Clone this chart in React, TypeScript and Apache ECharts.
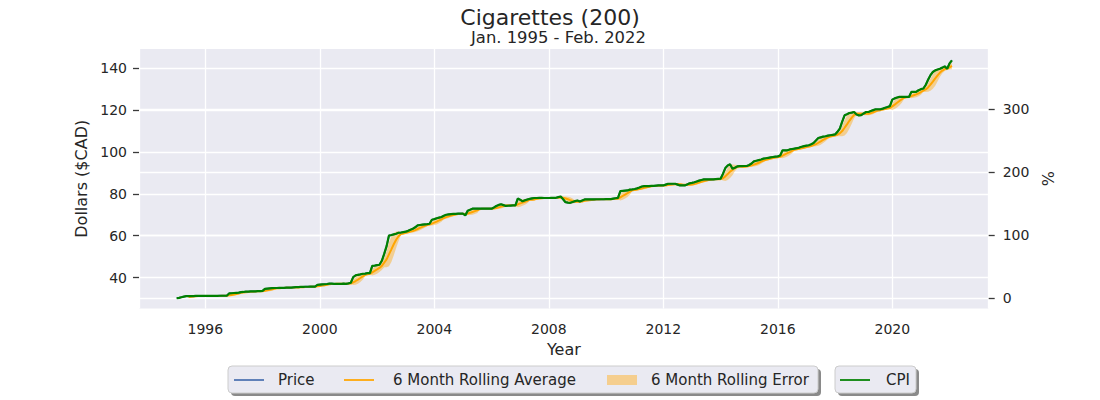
import React, { useEffect, useRef } from 'react';
import * as echarts from 'echarts';

const chartTitle = 'Cigarettes (200)';
const chartSubtitle = 'Jan. 1995 - Feb. 2022';
const firstYear = 1995;
const rollingWindow = 6;
const xAxisName = 'Year';
const leftAxisName = 'Dollars ($CAD)';
const rightAxisName = '%';
const legendNames = ['Price', '6 Month Rolling Average', '6 Month Rolling Error', 'CPI'];
const xTicks = [1996, 2000, 2004, 2008, 2012, 2016, 2020];
const leftTicks = [40, 60, 80, 100, 120, 140];
const rightTicks = [0, 100, 200, 300];

// Monthly price, Jan 1995 .. Feb 2022 (dollars)
const monthlyPrice = [
  // 1995
  30.1, 30.3, 30.6, 30.9, 31.1, 31.1, 31.1, 31.1, 31.2, 31.2, 31.2, 31.2,
  // 1996
  31.2, 31.2, 31.2, 31.2, 31.2, 31.2, 31.3, 31.3, 31.3, 31.3, 32.4, 32.5,
  // 1997
  32.6, 32.7, 32.8, 33.0, 33.1, 33.3, 33.3, 33.4, 33.4, 33.4, 33.5, 33.5,
  // 1998
  33.6, 34.6, 34.7, 34.8, 34.9, 35.0, 35.0, 35.1, 35.1, 35.1, 35.2, 35.2,
  // 1999
  35.2, 35.3, 35.4, 35.4, 35.5, 35.5, 35.6, 35.6, 35.7, 35.7, 35.7, 36.5,
  // 2000
  36.6, 36.7, 36.8, 36.9, 37.1, 37.1, 37.0, 37.0, 37.0, 37.0, 37.1, 37.0,
  // 2001
  37.2, 37.5, 40.2, 41.0, 41.3, 41.5, 41.8, 41.9, 42.1, 42.1, 45.6, 45.7,
  // 2002
  45.9, 46.1, 48.0, 51.3, 55.0, 60.1, 60.3, 60.6, 60.9, 61.4, 61.5, 61.7,
  // 2003
  61.9, 62.3, 62.8, 63.3, 64.0, 64.9, 65.1, 65.3, 65.4, 65.5, 65.7, 67.6,
  // 2004
  67.9, 68.3, 68.6, 68.9, 69.5, 70.0, 70.2, 70.3, 70.4, 70.4, 70.5, 70.5,
  // 2005
  70.5, 69.7, 71.9, 72.4, 72.9, 72.9, 72.9, 72.9, 72.9, 72.9, 72.9, 72.9,
  // 2006
  72.9, 73.5, 74.2, 74.7, 75.0, 74.6, 74.2, 74.3, 74.4, 74.5, 74.5, 77.7,
  // 2007
  77.2, 76.4, 76.9, 77.3, 77.6, 77.8, 78.0, 78.0, 78.1, 78.1, 78.0, 78.0,
  // 2008
  78.0, 78.1, 78.1, 78.1, 78.4, 78.7, 77.4, 76.0, 75.8, 75.7, 76.1, 76.5,
  // 2009
  76.8, 76.3, 76.8, 77.3, 77.3, 77.3, 77.3, 77.3, 77.4, 77.4, 77.4, 77.4,
  // 2010
  77.5, 77.5, 77.5, 77.7, 77.9, 78.1, 81.3, 81.4, 81.5, 81.6, 82.0, 82.1,
  // 2011
  82.3, 82.6, 83.0, 83.5, 83.7, 83.7, 83.7, 83.8, 83.8, 83.9, 84.0, 84.0,
  // 2012
  84.0, 84.4, 84.8, 84.8, 84.8, 84.8, 84.4, 84.0, 84.0, 84.0, 84.5, 85.0,
  // 2013
  85.2, 85.5, 85.9, 86.3, 86.6, 86.9, 86.9, 86.9, 86.9, 86.9, 87.0, 87.1,
  // 2014
  87.2, 89.5, 92.3, 93.5, 94.1, 92.0, 92.5, 93.1, 93.2, 93.2, 93.3, 93.3,
  // 2015
  93.8, 94.5, 95.5, 95.8, 96.1, 96.4, 96.8, 97.0, 97.2, 97.4, 97.6, 97.8,
  // 2016
  97.9, 98.3, 100.8, 100.8, 100.8, 101.2, 101.4, 101.6, 101.8, 102.1, 102.5, 102.8,
  // 2017
  103.0, 103.2, 103.7, 104.3, 105.5, 106.7, 107.0, 107.3, 107.5, 107.8, 108.0, 108.2,
  // 2018
  108.4, 109.6, 111.2, 114.5, 117.5, 118.0, 118.6, 118.8, 119.1, 117.9, 117.5, 117.6,
  // 2019
  118.4, 119.1, 119.1, 119.6, 120.0, 120.4, 120.4, 120.4, 120.7, 121.1, 121.5, 121.9,
  // 2020
  125.0, 125.6, 126.0, 126.3, 126.3, 126.3, 126.3, 126.3, 128.7, 128.7, 128.7, 129.5,
  // 2021
  130.0, 130.3, 132.0, 134.5, 136.7, 138.2, 139.0, 139.4, 139.8, 140.3, 140.9, 139.8,
  // 2022
  142.3, 143.8,
];

const COLORS = {
  text: '#262626',
  bg: '#EAEAF2',
  price: '#4C72B0',
  avg: '#FFA500',
  band: 'rgba(255,165,0,0.4)',
  bandLegend: '#F5CE8E',
  cpi: '#008000',
};

function buildSeriesData() {
  const xs = monthlyPrice.map((_, i) => firstYear + i / 12);
  const base = monthlyPrice[0];
  const pricePts = monthlyPrice.map((v, i) => [xs[i], v]);
  const cpiPts = monthlyPrice.map((v, i) => [xs[i], (v / base - 1) * 100]);
  const mean: number[][] = [];
  const band: number[][] = [];
  for (let i = rollingWindow - 1; i < monthlyPrice.length; i++) {
    const w = monthlyPrice.slice(i - rollingWindow + 1, i + 1);
    const m = w.reduce((a, b) => a + b, 0) / w.length;
    const sd = Math.sqrt(w.reduce((a, b) => a + (b - m) * (b - m), 0) / (w.length - 1));
    mean.push([xs[i], m]);
    band.push([xs[i], m - sd, m + sd]);
  }
  return { pricePts, cpiPts, mean, band, base };
}

function legendGraphics() {
  const font = '15px "DejaVu Sans"';
  const midY = 380;
  const box = (x: number, w: number) => [
    { type: 'rect', shape: { x: x + 3, y: 369, width: w, height: 27, r: 4 }, style: { fill: '#8a8a8a' }, z: 1 },
    { type: 'rect', shape: { x, y: 366, width: w, height: 27, r: 4 }, style: { fill: COLORS.bg, stroke: '#cccccc', lineWidth: 1 }, z: 2 },
  ];
  const line = (x: number, color: string, lw: number) => ({
    type: 'line', shape: { x1: x, y1: midY, x2: x + 30, y2: midY }, style: { stroke: color, lineWidth: lw }, z: 3,
  });
  const label = (x: number, text: string) => ({
    type: 'text', x, y: midY, style: { text, font, fill: COLORS.text, textVerticalAlign: 'middle', textAlign: 'left' }, z: 3,
  });
  return [
    ...box(228, 590),
    line(234, COLORS.price, 1.75),
    label(278, legendNames[0]),
    line(344, COLORS.avg, 1.75),
    label(393, legendNames[1]),
    { type: 'rect', shape: { x: 607, y: 375, width: 30, height: 10 }, style: { fill: COLORS.bandLegend }, z: 3 },
    label(651, legendNames[2]),
    ...box(835, 81),
    line(840, COLORS.cpi, 1.75),
    label(886, legendNames[3]),
  ];
}

export default function App() {
  const ref = useRef<HTMLDivElement>(null);
  useEffect(() => {
    if (!ref.current) return;
    const chart = echarts.init(ref.current, undefined, { renderer: 'svg' });
    const d = buildSeriesData();
    const leftMin = 25.2;
    const leftMax = 149.2;
    const rightMin = (leftMin / d.base - 1) * 100;
    const rightMax = (leftMax / d.base - 1) * 100;
    const tickStyle = { show: true, length: 6, lineStyle: { color: '#3a3a3a', width: 1.3 } };
    const splitLine = { show: true, lineStyle: { color: '#ffffff', width: 1.3 } };
    const labelStyle = { color: COLORS.text, fontSize: 14, fontFamily: 'DejaVu Sans' };
    const option: any = {
      animation: false,
      backgroundColor: '#ffffff',
      textStyle: { fontFamily: 'DejaVu Sans', color: COLORS.text },
      title: [
        { text: chartTitle, left: 'center', top: 6, padding: 0, textStyle: { fontSize: 22, lineHeight: 22, fontWeight: 'normal', color: COLORS.text, fontFamily: 'DejaVu Sans' } },
        { text: chartSubtitle, left: 471, top: 29, padding: 0, textStyle: { fontSize: 16.4, lineHeight: 16, fontWeight: 'normal', color: COLORS.text, fontFamily: 'DejaVu Sans' } },
      ],
      grid: {
        left: 139, right: 111.3, top: 49, bottom: 91.5,
        containLabel: false, outerBoundsMode: 'none',
        show: true, backgroundColor: COLORS.bg, borderWidth: 0,
      },
      xAxis: {
        type: 'value',
        min: 1993.684,
        max: 2023.368,
        minInterval: 4,
        maxInterval: 4,
        name: xAxisName,
        nameLocation: 'middle',
        nameGap: 33,
        nameTextStyle: { fontSize: 16, color: COLORS.text },
        axisLine: { show: false },
        axisTick: { show: false },
        splitLine,
        axisLabel: { ...labelStyle, margin: 13, customValues: xTicks, formatter: (v: number) => String(Math.round(v)) },
      },
      yAxis: [
        {
          type: 'value',
          min: leftMin,
          max: leftMax,
          minInterval: 20,
          maxInterval: 20,
          position: 'left',
          name: leftAxisName,
          nameLocation: 'middle',
          nameGap: 49,
          nameRotate: 90,
          nameTextStyle: { fontSize: 16, color: COLORS.text },
          axisLine: { show: false },
          axisTick: { ...tickStyle, customValues: leftTicks },
          splitLine,
          axisLabel: { ...labelStyle, margin: 12, customValues: leftTicks },
        },
        {
          type: 'value',
          min: rightMin,
          max: rightMax,
          minInterval: 100,
          maxInterval: 100,
          position: 'right',
          name: rightAxisName,
          nameLocation: 'middle',
          nameGap: 48,
          nameRotate: 90,
          nameTextStyle: { fontSize: 16, color: COLORS.text },
          axisLine: { show: false },
          axisTick: { ...tickStyle, customValues: rightTicks },
          splitLine,
          axisLabel: { ...labelStyle, margin: 14, customValues: rightTicks },
        },
      ],
      graphic: legendGraphics(),
      series: [
        {
          name: legendNames[2],
          type: 'custom',
          xAxisIndex: 0,
          yAxisIndex: 0,
          silent: true,
          z: 2,
          data: d.band,
          encode: { x: 0, y: [1, 2] },
          renderItem: (params: any, api: any) => {
            if (params.dataIndex !== 0) return null;
            const upper = d.band.map((r) => api.coord([r[0], r[2]]));
            const lower = d.band.map((r) => api.coord([r[0], r[1]])).reverse();
            return {
              type: 'polygon',
              shape: { points: upper.concat(lower) },
              style: { fill: COLORS.band, stroke: 'none' },
            };
          },
        },
        {
          name: legendNames[1], type: 'line', yAxisIndex: 0, data: d.mean, symbol: 'none',
          lineStyle: { color: COLORS.avg, width: 2 }, z: 3,
        },
        {
          name: legendNames[0], type: 'line', yAxisIndex: 0, data: d.pricePts, symbol: 'none',
          lineStyle: { color: COLORS.price, width: 1.75 }, z: 4,
        },
        {
          name: legendNames[3], type: 'line', yAxisIndex: 1, data: d.cpiPts, symbol: 'none',
          lineStyle: { color: COLORS.cpi, width: 2.2 }, z: 5,
        },
      ],
    };
    chart.setOption(option);
    return () => chart.dispose();
  }, []);
  return <div ref={ref} style={{ position: 'fixed', left: 0, top: 0, width: 1100, height: 400 }} />;
}
